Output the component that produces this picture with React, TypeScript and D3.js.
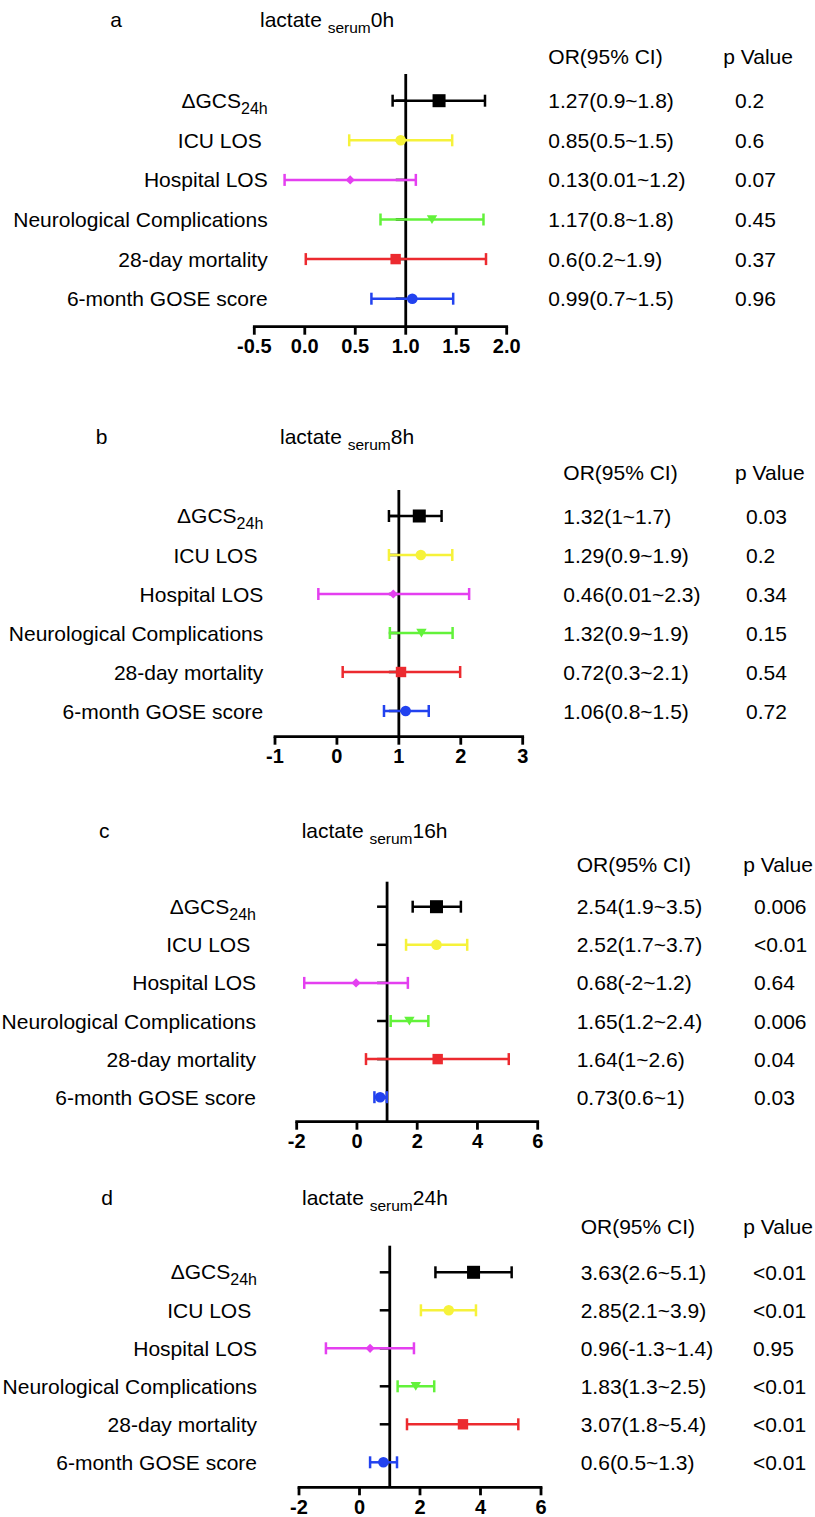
import React from "react";
import * as d3 from "d3";

const outcomes = ["ΔGCS", "ICU LOS\u00A0", "Hospital LOS", "Neurological Complications", "28-day mortality", "6-month GOSE score"];
const colors = ["#000000", "#f6f23a", "#e43ff0", "#62f23a", "#ec2a2f", "#2242ef"];
const shapes = ["bigSquare", "circle", "diamond", "triangleDown", "square", "circle"];

const panelLetters = ["a", "b", "c", "d"];
const panelTimes = ["0h", "8h", "16h", "24h"];
const domains: [number, number][] = [[-0.5, 2], [-1, 3], [-2, 6], [-2, 6]];

const ticksA = [-0.5, 0, 0.5, 1, 1.5, 2];
const tickLabelsA = ["-0.5", "0.0", "0.5", "1.0", "1.5", "2.0"];
const ticksB = [-1, 0, 1, 2, 3];
const tickLabelsB = ["-1", "0", "1", "2", "3"];
const ticksCD = [-2, 0, 2, 4, 6];
const tickLabelsCD = ["-2", "0", "2", "4", "6"];

const estA = [1.33, 0.95, 0.45, 1.26, 0.9, 1.065];
const lowA = [0.87, 0.44, -0.2, 0.75, 0.01, 0.66];
const highA = [1.785, 1.46, 1.1, 1.77, 1.795, 1.47];
const orA = ["1.27(0.9~1.8)", "0.85(0.5~1.5)", "0.13(0.01~1.2)", "1.17(0.8~1.8)", "0.6(0.2~1.9)", "0.99(0.7~1.5)"];
const pA = ["0.2", "0.6", "0.07", "0.45", "0.37", "0.96"];

const estB = [1.33, 1.355, 0.91, 1.365, 1.035, 1.11];
const lowB = [0.84, 0.84, -0.3, 0.855, 0.093, 0.76];
const highB = [1.69, 1.863, 2.135, 1.868, 1.99, 1.483];
const orB = ["1.32(1~1.7)", "1.29(0.9~1.9)", "0.46(0.01~2.3)", "1.32(0.9~1.9)", "0.72(0.3~2.1)", "1.06(0.8~1.5)"];
const pB = ["0.03", "0.2", "0.34", "0.15", "0.54", "0.72"];

const estC = [2.64, 2.64, -0.03, 1.74, 2.68, 0.77];
const lowC = [1.85, 1.63, -1.75, 1.12, 0.3, 0.58];
const highC = [3.45, 3.66, 1.69, 2.37, 5.04, 0.99];
const orC = ["2.54(1.9~3.5)", "2.52(1.7~3.7)", "0.68(-2~1.2)", "1.65(1.2~2.4)", "1.64(1~2.6)", "0.73(0.6~1)"];
const pC = ["0.006", "<0.01", "0.64", "0.006", "0.04", "0.03"];

const estD = [3.77, 2.95, 0.35, 1.86, 3.42, 0.79];
const lowD = [2.51, 2.03, -1.11, 1.26, 1.57, 0.35];
const highD = [5.03, 3.85, 1.8, 2.47, 5.25, 1.24];
const orD = ["3.63(2.6~5.1)", "2.85(2.1~3.9)", "0.96(-1.3~1.4)", "1.83(1.3~2.5)", "3.07(1.8~5.4)", "0.6(0.5~1.3)"];
const pD = ["<0.01", "<0.01", "0.95", "<0.01", "<0.01", "<0.01"];

const refValue = 1;

const panelData = [
  { est: estA, low: lowA, high: highA, or: orA, p: pA, ticks: ticksA, tickLabels: tickLabelsA },
  { est: estB, low: lowB, high: highB, or: orB, p: pB, ticks: ticksB, tickLabels: tickLabelsB },
  { est: estC, low: lowC, high: highC, or: orC, p: pC, ticks: ticksCD, tickLabels: tickLabelsCD },
  { est: estD, low: lowD, high: highD, or: orD, p: pD, ticks: ticksCD, tickLabels: tickLabelsCD },
];

// layout (pixel positions)
const layouts = [
  { x0: 254.3, x1: 506.7, y0: 100.7, step: 39.6, axisY: 326.7, vTop: 74, labelRight: 267.7, titleX: 260, titleY: 26.7, letterX: 116, orX: 548.3, pHeadX: 723.3, pX: 735, headY: 63.7 },
  { x0: 275, x1: 522.7, y0: 516, step: 39, axisY: 736.7, vTop: 490, labelRight: 263.3, titleX: 280, titleY: 444, letterX: 101.7, orX: 563.3, pHeadX: 735, pX: 746, headY: 480.3 },
  { x0: 296.7, x1: 537.7, y0: 906.7, step: 38.1, axisY: 1121.7, vTop: 881.7, labelRight: 256, titleX: 301.7, titleY: 838, letterX: 104.3, orX: 576.7, pHeadX: 743.3, pX: 754, headY: 872 },
  { x0: 299, x1: 541, y0: 1272.3, step: 38, axisY: 1487.3, vTop: 1245.7, labelRight: 257, titleX: 302, titleY: 1204.5, letterX: 107, orX: 580.7, pHeadX: 743.3, pX: 753, headY: 1234.3 },
];

const FONT = "'Liberation Sans', Arial, Helvetica, sans-serif";
const FS = 21;

function Marker({ shape, x, y, color }: { shape: string; x: number; y: number; color: string }) {
  if (shape === "bigSquare") return <rect x={x - 6.5} y={y - 6.5} width={13} height={13} fill={color} />;
  if (shape === "square") return <rect x={x - 5.2} y={y - 5.2} width={10.4} height={10.4} fill={color} />;
  if (shape === "circle") return <circle cx={x} cy={y} r={5.3} fill={color} />;
  if (shape === "diamond") return <path d={`M${x},${y - 4.6}L${x + 4.6},${y}L${x},${y + 4.6}L${x - 4.6},${y}Z`} fill={color} />;
  if (shape === "triangleDown") return <path d={`M${x - 5.2},${y - 4.3}L${x + 5.2},${y - 4.3}L${x},${y + 4.5}Z`} fill={color} />;
  return null;
}

function Panel({ idx }: { idx: number }) {
  const L = layouts[idx];
  const D = panelData[idx];
  const x = d3.scaleLinear().domain(domains[idx]).range([L.x0, L.x1]);
  const y = d3.scaleLinear().domain([0, 5]).range([L.y0, L.y0 + 5 * L.step]);
  const xr = x(refValue);
  const rows = d3.range(outcomes.length);
  return (
    <g>
      <text x={L.letterX} y={L.titleY} textAnchor="middle" fontSize={FS}>{panelLetters[idx]}</text>
      <text x={L.titleX} y={L.titleY} fontSize={FS}>
        lactate <tspan fontSize={15.5} dy={6}>serum</tspan>
        <tspan dy={-6}>{panelTimes[idx]}</tspan>
      </text>
      <text x={L.orX} y={L.headY} fontSize={FS}>OR(95% CI)</text>
      <text x={L.pHeadX} y={L.headY} fontSize={FS}>p Value</text>
      {rows.map((i) => (
        <g key={i}>
          {i === 0 ? (
            <text x={L.labelRight} y={y(i) + 7} textAnchor="end" fontSize={FS}>
              {outcomes[i]}
              <tspan fontSize={16} dy={6}>24h</tspan>
            </text>
          ) : (
            <text x={L.labelRight} y={y(i) + 7.5} textAnchor="end" fontSize={FS}>{outcomes[i]}</text>
          )}
          <text x={L.orX} y={y(i) + 7.5} fontSize={FS}>{D.or[i]}</text>
          <text x={L.pX} y={y(i) + 7.5} fontSize={FS}>{D.p[i]}</text>
          <line x1={xr - 10} x2={xr} y1={y(i)} y2={y(i)} stroke="#000" strokeWidth={2.5} />
        </g>
      ))}
      {/* x axis */}
      <line x1={L.x0} x2={L.x1} y1={L.axisY} y2={L.axisY} stroke="#000" strokeWidth={2.8} strokeLinecap="square" />
      {D.ticks.map((t, k) => (
        <g key={k}>
          <line x1={x(t)} x2={x(t)} y1={L.axisY} y2={L.axisY + 8} stroke="#000" strokeWidth={2.8} />
          <text x={x(t)} y={L.axisY + 26.5} textAnchor="middle" fontSize={20} fontWeight="bold">{D.tickLabels[k]}</text>
        </g>
      ))}
      {/* reference line */}
      <line x1={xr} x2={xr} y1={L.vTop} y2={L.axisY} stroke="#000" strokeWidth={2.8} />
      {/* error bars */}
      {rows.map((i) => (
        <g key={"e" + i}>
          <line x1={x(D.low[i])} x2={x(D.high[i])} y1={y(i)} y2={y(i)} stroke={colors[i]} strokeWidth={2.5} />
          <line x1={x(D.low[i])} x2={x(D.low[i])} y1={y(i) - 6} y2={y(i) + 6} stroke={colors[i]} strokeWidth={2.5} />
          <line x1={x(D.high[i])} x2={x(D.high[i])} y1={y(i) - 6} y2={y(i) + 6} stroke={colors[i]} strokeWidth={2.5} />
          <Marker shape={shapes[i]} x={x(D.est[i])} y={y(i)} color={colors[i]} />
        </g>
      ))}
    </g>
  );
}

export default function App() {
  return (
    <svg
      width={815}
      height={1517}
      viewBox="0 0 815 1517"
      style={{ position: "absolute", left: 0, top: 0, background: "#fff" }}
      fontFamily={FONT}
      fill="#000"
    >
      <rect x={0} y={0} width={815} height={1517} fill="#fff" />
      {[0, 1, 2, 3].map((i) => (
        <Panel key={i} idx={i} />
      ))}
    </svg>
  );
}
